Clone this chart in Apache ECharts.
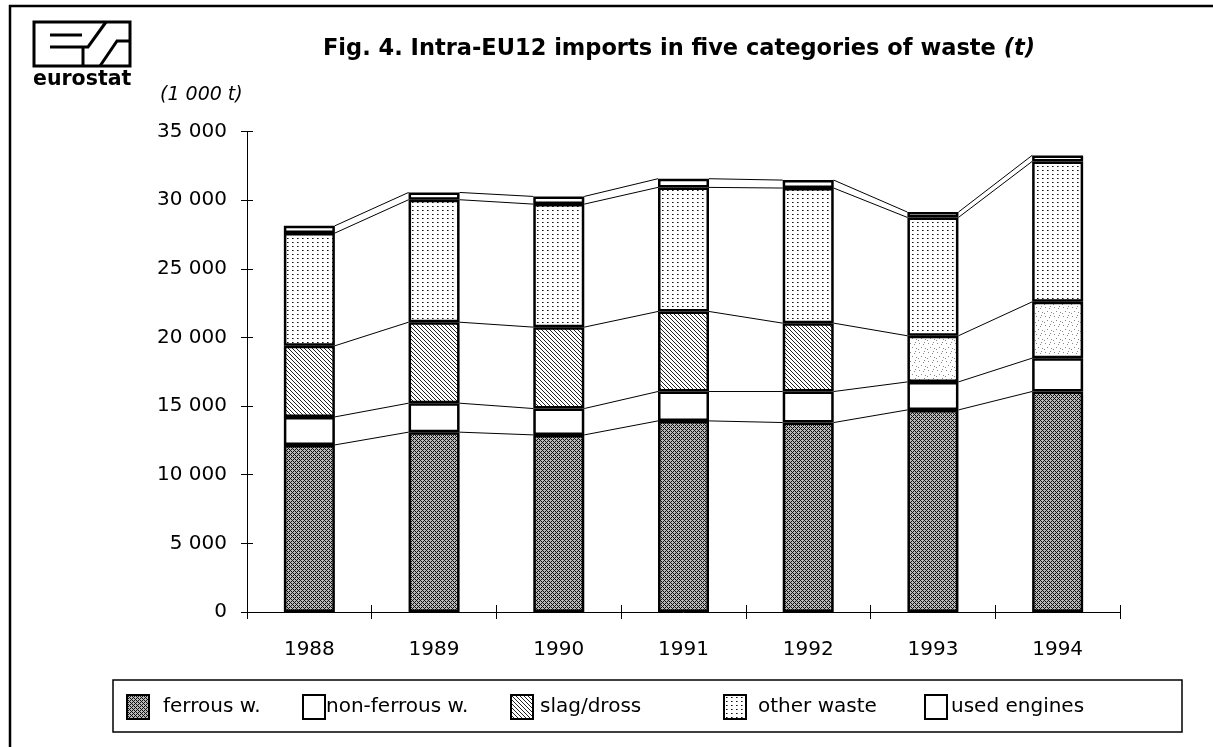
<!DOCTYPE html>
<html>
<head>
<meta charset="utf-8">
<script src="https://cdn.jsdelivr.net/npm/echarts@6/dist/echarts.min.js"></script>
<style>
  html, body { margin: 0; padding: 0; background: #fff; }
  #chart { width: 1213px; height: 747px; }
</style>
</head>
<body>
<div id="chart"></div>
<script>
// data, in 1 000 t
var years = ['1988', '1989', '1990', '1991', '1992', '1993', '1994'];
var ferrous = [12170, 13100, 12900, 13920, 13800, 14720, 16060];
var nonFerrous = [2040, 2110, 1920, 2140, 2260, 2040, 2430];
var slag = [5180, 5900, 5930, 5830, 4980, 3360, 4100];
var otherWaste = [8210, 8920, 8960, 9040, 9840, 8620, 10230];
var usedEngines = [530, 530, 560, 630, 580, 390, 440];
var yTicks = [0, 5000, 10000, 15000, 20000, 25000, 30000, 35000];

var FONT = 'DejaVu Sans';
var BAR_W = 51;

// cumulative tops of each stack level, used for the joining lines
var layers = [ferrous, nonFerrous, slag, otherWaste, usedEngines];
var levels = [];
var run = years.map(function () { return 0; });
layers.forEach(function (arr) {
  run = run.map(function (v, i) { return v + arr[i]; });
  levels.push(run.slice());
});

function pattern(w, h, bg, draw) {
  var c = document.createElement('canvas');
  c.width = w; c.height = h;
  var ctx = c.getContext('2d');
  ctx.fillStyle = bg;
  ctx.fillRect(0, 0, w, h);
  draw(ctx);
  return { image: c, repeat: 'repeat' };
}

var ferrousFill = pattern(4, 4, '#b8b8b8', function (ctx) {
  ctx.fillStyle = '#111';
  for (var x = 0; x < 4; x++) for (var y = 0; y < 4; y++) {
    if ((x + y) % 4 === 0 || (x - y + 4) % 4 === 0) ctx.fillRect(x, y, 1, 1);
  }
});
var slagFill = pattern(4, 4, '#fff', function (ctx) {
  ctx.fillStyle = '#222';
  for (var x = 0; x < 4; x++) ctx.fillRect(x, x, 1, 1);
});
var speckleFill = pattern(9, 9, '#fff', function (ctx) {
  ctx.fillStyle = '#888';
  [[1, 1], [5, 2], [3, 5], [7, 6], [0, 7], [6, 0]].forEach(function (p) {
    ctx.fillRect(p[0], p[1], 1, 1);
  });
});
var dotFill = pattern(5, 4, '#fff', function (ctx) {
  ctx.fillStyle = '#111';
  ctx.fillRect(2, 2, 1, 1);
  ctx.fillStyle = '#777';
  ctx.fillRect(3, 2, 1, 1);
});

function fmt(v) { return String(v).replace(/\B(?=(\d{3})+(?!\d))/g, ' '); }

function barSeries(name, data, fill) {
  return {
    name: name,
    type: 'bar',
    stack: 'total',
    barWidth: BAR_W,
    data: data,
    itemStyle: { color: fill, borderColor: '#000', borderWidth: 2.5 },
    emphasis: { disabled: true }
  };
}

var chart = echarts.init(document.getElementById('chart'));

var legendPos = [
  { name: 'ferrous w.', left: 126, pad: 9 },
  { name: 'non-ferrous w.', left: 302, pad: -4 },
  { name: 'slag/dross', left: 510, pad: 2 },
  { name: 'other waste', left: 723, pad: 7 },
  { name: 'used engines', left: 924, pad: -1 }
];

option = {
  animation: false,
  backgroundColor: '#fff',
  textStyle: { fontFamily: FONT, color: '#000' },
  title: {
    text: '{b|Fig. 4. Intra-EU12 imports in five categories of waste }{i|(t)}',
    left: 318,
    top: 33,
    textStyle: {
      rich: {
        b: { fontFamily: FONT, fontWeight: 'bold', fontSize: 22.5, color: '#000' },
        i: { fontFamily: FONT, fontWeight: 'bold', fontStyle: 'italic', fontSize: 22.5, color: '#000' }
      }
    }
  },
  legend: legendPos.map(function (l) {
    return {
      data: [{ name: l.name, icon: 'rect' }],
      left: l.left,
      top: 694,
      padding: 0,
      itemWidth: 22,
      itemHeight: 24,
      selectedMode: false,
      textStyle: { fontFamily: FONT, fontSize: 20, color: '#000', padding: [0, 0, 0, l.pad] }
    };
  }),
  grid: { left: 247, right: 93, top: 131.5, bottom: 135 },
  xAxis: [{
    type: 'category',
    data: years,
    boundaryGap: true,
    axisLine: { lineStyle: { color: '#000', width: 1 } },
    axisTick: { show: true, length: 7, lineStyle: { color: '#000' } },
    axisLabel: { fontFamily: FONT, fontSize: 20, color: '#000', margin: 28 }
  }, {
    type: 'category',
    data: years,
    position: 'bottom',
    boundaryGap: true,
    axisLine: { show: false },
    axisTick: { show: true, inside: true, length: 7, lineStyle: { color: '#000' } },
    axisLabel: { show: false }
  }],
  yAxis: [{
    type: 'value',
    min: yTicks[0],
    max: yTicks[yTicks.length - 1],
    interval: yTicks[1] - yTicks[0],
    axisLine: { show: true, lineStyle: { color: '#000', width: 1 } },
    axisTick: { show: true, length: 6, lineStyle: { color: '#000' } },
    splitLine: { show: false },
    axisLabel: { fontFamily: FONT, fontSize: 20, color: '#000', margin: 20, formatter: fmt }
  }, {
    type: 'value',
    position: 'left',
    min: yTicks[0],
    max: yTicks[yTicks.length - 1],
    interval: yTicks[1] - yTicks[0],
    axisLine: { show: false },
    axisTick: { show: true, inside: true, length: 6, lineStyle: { color: '#000' } },
    splitLine: { show: false },
    axisLabel: { show: false }
  }],
  series: [
    barSeries('ferrous w.', ferrous, ferrousFill),
    barSeries('non-ferrous w.', nonFerrous, '#fff'),
    barSeries('slag/dross', slag.map(function (v, i) {
      return i >= 5 ? { value: v, itemStyle: { color: speckleFill } } : v;
    }), slagFill),
    barSeries('other waste', otherWaste, dotFill),
    barSeries('used engines', usedEngines, '#fff'),
    {
      type: 'custom',
      silent: true,
      z: 1,
      data: years.map(function (y, i) { return [i, levels[levels.length - 1][i]]; }),
      encode: { x: 0, y: 1 },
      renderItem: function (params, api) {
        var i = params.dataIndex;
        if (i >= years.length - 1) return;
        var half = BAR_W / 2;
        return {
          type: 'group',
          children: levels.map(function (cum) {
            var a = api.coord([i, cum[i]]);
            var b = api.coord([i + 1, cum[i + 1]]);
            return {
              type: 'line',
              shape: { x1: a[0] + half, y1: a[1], x2: b[0] - half, y2: b[1] },
              style: { stroke: '#000', lineWidth: 1 }
            };
          })
        };
      }
    }
  ],
  graphic: [
    // page frame (left and top edges only, as in the scan)
    { type: 'polyline', shape: { points: [[10, 747], [10, 6], [1213, 6]] }, style: { stroke: '#000', lineWidth: 2.5, fill: null } },
    // legend box
    { type: 'rect', shape: { x: 113, y: 680, width: 1069, height: 52 }, style: { stroke: '#000', lineWidth: 1.5, fill: null } },
    // eurostat logo
    { type: 'rect', shape: { x: 34, y: 22, width: 96, height: 44 }, style: { stroke: '#000', lineWidth: 3, fill: null } },
    { type: 'polyline', shape: { points: [[50, 35], [82, 35]] }, style: { stroke: '#000', lineWidth: 3, fill: null } },
    { type: 'polyline', shape: { points: [[50, 47], [88, 47], [106, 22]] }, style: { stroke: '#000', lineWidth: 3, fill: null } },
    { type: 'polyline', shape: { points: [[83, 47], [83, 66]] }, style: { stroke: '#000', lineWidth: 3, fill: null } },
    { type: 'polyline', shape: { points: [[100, 66], [117, 41], [130, 41]] }, style: { stroke: '#000', lineWidth: 3, fill: null } },
    { type: 'text', left: 33, top: 69, style: { text: 'eurostat', fontFamily: FONT, fontWeight: 'bold', fontSize: 20.5, fill: '#000' } },
    // unit label
    { type: 'text', left: 160, top: 86, style: { text: '(1 000 t)', fontFamily: FONT, fontStyle: 'italic', fontSize: 19, fill: '#000' } }
  ]
};

chart.setOption(option);
</script>
</body>
</html>
